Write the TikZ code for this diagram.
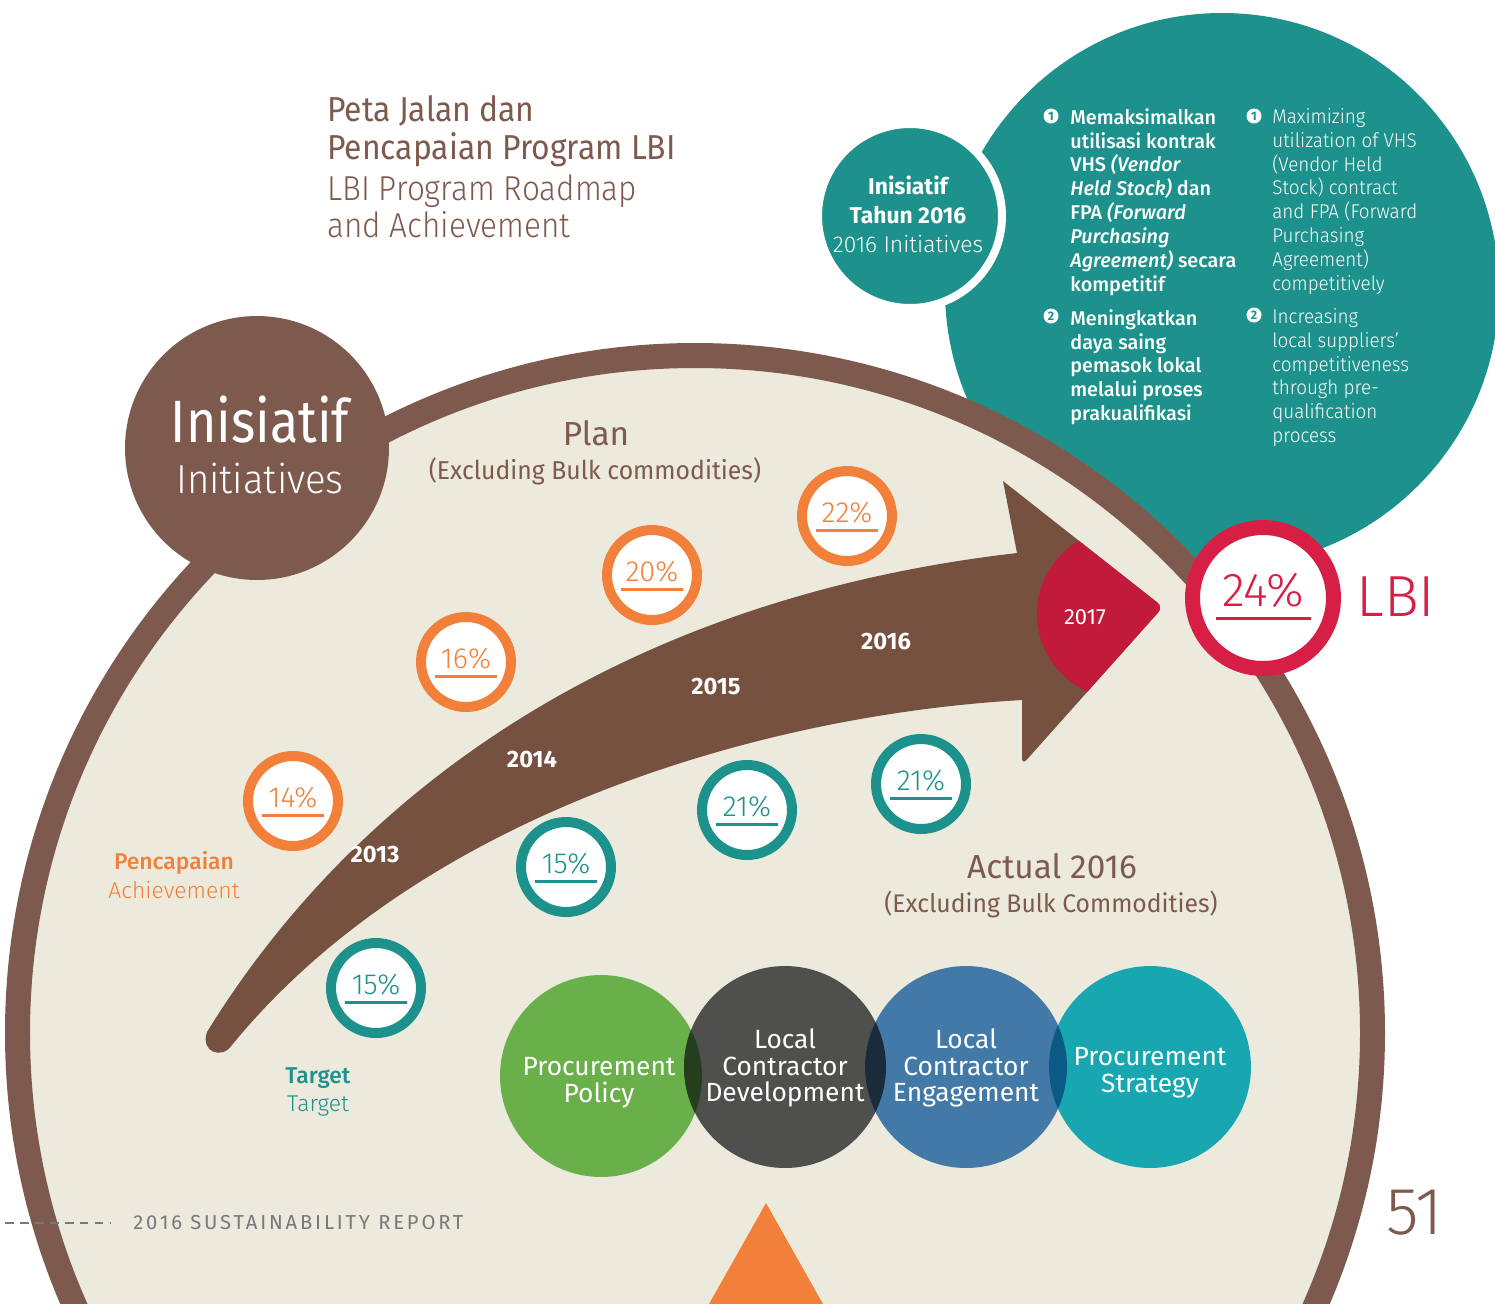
\documentclass[tikz,border=0pt]{standalone}
\usepackage{fontspec}
\setmainfont{Fira Sans}
\newfontfamily\lightfont{Fira Sans}[UprightFont={* Light}, ItalicFont={* Light Italic}]
\newfontfamily\medfont{Fira Sans}[UprightFont={* Medium}, ItalicFont={* Medium Italic}]
\usetikzlibrary{positioning}

\definecolor{ringbrown}{HTML}{7E5A4E}
\definecolor{arrowbrown}{HTML}{76513F}
\definecolor{cream}{HTML}{ECE9DD}
\definecolor{tealdark}{HTML}{1D918B}
\definecolor{pctorange}{HTML}{F3803A}
\definecolor{lbired}{HTML}{D71F45}
\definecolor{redhead}{HTML}{C21A3A}
\definecolor{footgrey}{HTML}{77787A}
\definecolor{polgreen}{HTML}{6AB04A}
\definecolor{devgrey}{HTML}{4F4F4D}
\definecolor{engblue}{HTML}{4379A6}
\definecolor{strteal}{HTML}{18A7B0}
\definecolor{lensA}{HTML}{253E1D}
\definecolor{lensB}{HTML}{1A2B3C}
\definecolor{lensC}{HTML}{0B5A85}

\newcommand{\fsz}[2]{\fontsize{#1}{#2}\selectfont}
\newcommand{\arrowpath}{(207,1032) .. controls (350,800) and (610,600) .. (1017,553)
  -- (1003,481) [rounded corners=4pt] -- (1163,607) -- (1022,765) [sharp corners] -- (1022,700)
  .. controls (760,715) and (420,815) .. (232,1045)
  .. controls (222,1060) and (200,1052) .. cycle}

\tikzset{
  plain/.style={inner sep=0pt},
  pctcirc/.style={circle, draw=#1, line width=0.2cm, fill=white,
    minimum size=1.8cm, inner sep=0pt, text=#1, text depth=0.16cm,
    font=\lightfont\fsz{16.5}{17},
    path picture={\fill[#1] ([xshift=-0.62cm,yshift=-0.26cm]path picture bounding box.center) rectangle ++(1.24cm,-0.06cm);}},
  pctorangecirc/.style={pctcirc=pctorange},
  pcttealcirc/.style={pctcirc=tealdark},
  yearlabel/.style={plain, text=white, font=\bfseries\fsz{13.5}{14}},
  bigball/.style={circle, minimum size=4.04cm, inner sep=0pt},
  balltext/.style={plain, text=white, align=center, font=\fsz{15}{15.3}},
  bulletnum/.style={circle, fill=white, text=tealdark, inner sep=0pt,
    minimum size=0.3cm, font=\bfseries\fsz{7}{7}},
  tealcol/.style={plain, anchor=north west, align=left, text=white, font=\medfont\fsz{11.3}{13.6}},
  tealcollight/.style={tealcol, font=\lightfont\fsz{11.3}{13.6}\addfontfeature{FakeStretch=0.95}},
}

\begin{document}
\begin{tikzpicture}[x=0.02cm, y=-0.02cm]
\clip (0,0) rectangle (1495,1303);
\fill[white] (0,0) rectangle (1495,1303);

% big teal circle behind the plate
\fill[tealdark] (1222,290) circle (277);

% cream plate with brown rim
\draw[ringbrown, line width=0.5cm, fill=cream] (695,1033) circle (677.5);

% small circle, initiatives of 2016
\node[circle, fill=tealdark, draw=white, line width=0.16cm, minimum size=3.68cm] (ini2016) at (910,216) {};

% brown circle top left
\node[circle, fill=ringbrown, minimum size=5.28cm] (inicirc) at (257,448) {};

% the arrow
\fill[arrowbrown] \arrowpath;
\begin{scope}
  \clip \arrowpath;
  \fill[redhead] (1122,614) circle (85);
\end{scope}

% LBI circle
\node[circle, draw=lbired, line width=0.3cm, fill=white, minimum size=2.82cm, inner sep=0pt,
  text=lbired, text depth=0.32cm, font=\lightfont\fsz{27}{27},
  path picture={\fill[lbired] ([xshift=-0.95cm,yshift=-0.38cm]path picture bounding box.center) rectangle ++(1.9cm,-0.06cm);}] (lbi) at (1263,598) {24\%};
\node[plain, text=lbired, font=\lightfont\fsz{33}{33}, anchor=west] (lbitext) at (1356,597) {LBI};

% plan, achievement
\node[pctorangecirc] (a13) at (293,801) {14\%};
\node[pctorangecirc] (a14) at (466,662) {16\%};
\node[pctorangecirc] (a15) at (652,575) {20\%};
\node[pctorangecirc] (a16) at (847,516) {22\%};

% actual, target
\node[pcttealcirc] (t13) at (376,988) {15\%};
\node[pcttealcirc] (t14) at (566,867) {15\%};
\node[pcttealcirc] (t15) at (747,810) {21\%};
\node[pcttealcirc] (t16) at (921,784) {21\%};

% years on the arrow
\node[yearlabel] (y13) at (375,855) {2013};
\node[yearlabel] (y14) at (532,759) {2014};
\node[yearlabel] (y15) at (716,687) {2015};
\node[yearlabel] (y16) at (886,642) {2016};
\node[plain, text=white, font=\fsz{12.5}{13}] (y17) at (1085,617) {2017};

% four pillars
\node[bigball, fill=polgreen] (pol) at (601,1076) {};
\node[bigball, fill=devgrey] (dev) at (785,1067) {};
\node[bigball, fill=engblue] (eng) at (966,1067) {};
\node[bigball, fill=strteal] (str) at (1150,1067) {};
\begin{scope}
  \clip (pol.center) circle (101);
  \fill[lensA] (dev.center) circle (101);
\end{scope}
\begin{scope}
  \clip (dev.center) circle (101);
  \fill[lensB] (eng.center) circle (101);
\end{scope}
\begin{scope}
  \clip (eng.center) circle (101);
  \fill[lensC] (str.center) circle (101);
\end{scope}
\node[balltext] (poltext) at (599,1083) {Procurement\\Policy};
\node[balltext] (devtext) at (785,1068) {Local\\Contractor\\Development};
\node[balltext] (engtext) at (966,1068) {Local\\Contractor\\Engagement};
\node[balltext] (strtext) at (1150,1073) {Procurement\\Strategy};

% titles
\node[plain, anchor=north west, align=left, text=ringbrown, font=\fsz{19.7}{21.5}\addfontfeature{FakeStretch=0.92}] (titleid) at (327,95) {Peta Jalan dan\\Pencapaian Program LBI};
\node[plain, anchor=north west, align=left, text=ringbrown, font=\lightfont\fsz{19.7}{21.5}\addfontfeature{FakeStretch=0.91}] (titleen) at (327,174) {LBI Program Roadmap\\and Achievement};

\node[plain, anchor=base, text=white, font=\fsz{34}{34}\addfontfeature{FakeStretch=0.87}] (iniid) at (260,442) {Inisiatif};
\node[plain, anchor=base, text=white, font=\lightfont\fsz{23}{23}\addfontfeature{FakeStretch=0.95}] (inien) at (260,493) {Initiatives};

\node[plain, anchor=base, text=ringbrown, font=\fsz{19}{19}] (plan) at (596,445) {Plan};
\node[plain, anchor=base, text=ringbrown, font=\fsz{14.7}{15}\addfontfeature{FakeStretch=0.96}] (planex) at (595,479) {(Excluding Bulk commodities)};
\node[plain, anchor=base, text=ringbrown, font=\fsz{19}{19}] (actual) at (1052,878) {Actual 2016};
\node[plain, anchor=base, text=ringbrown, font=\fsz{14.5}{15}\addfontfeature{FakeStretch=0.97}] (actualex) at (1051,912) {(Excluding Bulk Commodities)};

\node[plain, anchor=base, text=pctorange, font=\medfont\fsz{13}{13}] (achid) at (174,869) {Pencapaian};
\node[plain, anchor=base, text=pctorange, font=\lightfont\fsz{13}{13}] (achen) at (174,898) {Achievement};
\node[plain, anchor=base, text=tealdark, font=\medfont\fsz{13}{13}] (tarid) at (318,1083) {Target};
\node[plain, anchor=base, text=tealdark, font=\lightfont\fsz{13}{13}] (taren) at (318,1111) {Target};

% small teal circle text
\node[plain, anchor=base, text=white, font=\bfseries\fsz{13}{13}] (smallA) at (908,194) {Inisiatif};
\node[plain, anchor=base, text=white, font=\bfseries\fsz{13}{13}] (smallB) at (908,223) {Tahun 2016};
\node[plain, anchor=base, text=white, font=\lightfont\fsz{13}{13}] (smallC) at (908,252) {2016 Initiatives};

% initiatives list
\node[bulletnum] (b1id) at (1051,116) {1};
\node[bulletnum] (b2id) at (1051,316) {2};
\node[bulletnum] (b1en) at (1254,116) {1};
\node[bulletnum] (b2en) at (1254,315) {2};
\node[tealcol] (l1id) at (1070,108) {Memaksimalkan\\utilisasi kontrak\\VHS \textit{(Vendor}\\\textit{Held Stock)} dan\\FPA \textit{(Forward}\\\textit{Purchasing}\\\textit{Agreement)} secara\\kompetitif};
\node[tealcol] (l2id) at (1070,309) {Meningkatkan\\daya saing\\pemasok lokal\\melalui proses\\prakualifikasi};
\node[tealcollight] (l1en) at (1272,108) {Maximizing\\utilization of VHS\\(Vendor Held\\Stock) contract\\and FPA (Forward\\Purchasing\\Agreement)\\competitively};
\node[tealcollight] (l2en) at (1272,308) {Increasing\\local suppliers’\\competitiveness\\through pre-\\qualification\\process};

% footer
\fill[pctorange] (766,1203) -- (832,1320) -- (700,1320) -- cycle;
\draw[footgrey, line width=1.1pt, dash pattern=on 5pt off 3.5pt] (5,1223) -- (110,1223);
\node[plain, anchor=west, text=footgrey, font=\fsz{11.5}{11.5}\addfontfeature{LetterSpace=14}] (foot) at (133,1223) {2016 SUSTAINABILITY REPORT};
\node[plain, text=ringbrown, font=\lightfont\fsz{38}{38}] (pagenum) at (1415,1213) {51};

\end{tikzpicture}
\end{document}
